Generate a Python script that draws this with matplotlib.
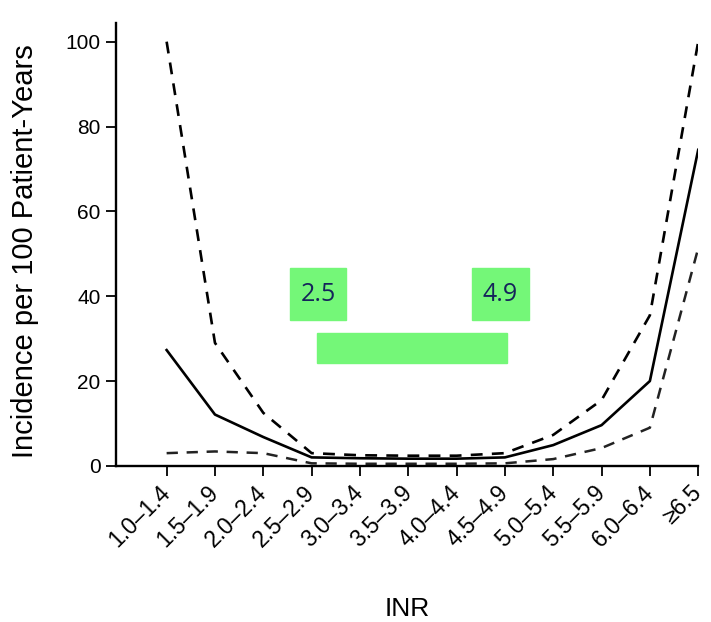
import matplotlib.pyplot as plt
from matplotlib.patches import Rectangle

plt.rcParams['font.family'] = ['Liberation Sans', 'DejaVu Sans']

inr = ['1.0–1.4', '1.5–1.9', '2.0–2.4', '2.5–2.9', '3.0–3.4', '3.5–3.9',
       '4.0–4.4', '4.5–4.9', '5.0–5.4', '5.5–5.9', '6.0–6.4', '≥6.5']
incidence = [27.3, 12.1, 6.8, 2.0, 1.8, 1.7, 1.7, 2.0, 4.9, 9.6, 20.0, 74.5]
upper_ci = [100, 29, 12.5, 3.0, 2.5, 2.4, 2.4, 3.0, 7.3, 15.5, 35.5, 100]
lower_ci = [3.0, 3.4, 3.0, 0.6, 0.5, 0.5, 0.5, 0.6, 1.6, 4.2, 9.0, 51.3]

fig = plt.figure(figsize=(7.11, 6.22), dpi=100)
ax = fig.add_axes([0.163, 0.251, 0.819, 0.712])

x = range(len(inr))
ax.plot(x, incidence, color='black', lw=1.9)
ax.plot(x, upper_ci, color='black', lw=1.9, dashes=(4.5, 3.5))
ax.plot(x, lower_ci, color='#222222', lw=1.8, dashes=(4.5, 3.5))

# target range markers
green = '#74f778'
for x0, x1, lbl in [(2.56, 3.72, '2.5'), (6.31, 7.50, '4.9')]:
    ax.add_patch(Rectangle((x0, 34.4), x1 - x0, 12.3, color=green, zorder=3))
    ax.text((x0 + x1) / 2, 40.3, lbl, ha='center', va='center', fontsize=18,
            color='#15245a', family=['Open Sans', 'DejaVu Sans'], zorder=4)
ax.add_patch(Rectangle((3.12, 24.2), 7.04 - 3.12, 7.1, color=green, zorder=3))

ax.set_xlim(-1.05, 11.0)
ax.set_ylim(0, 104.4)
ax.set_yticks([0, 20, 40, 60, 80, 100])
ax.set_xticks(list(x))
ax.set_xticklabels(inr, rotation=45, ha='right', va='center',
                   rotation_mode='anchor')
ax.tick_params(axis='both', direction='out', length=7, width=1.3)
ax.tick_params(axis='y', labelsize=15, pad=4)
ax.tick_params(axis='x', labelsize=16.5, pad=10)
for s in ['top', 'right']:
    ax.spines[s].set_visible(False)
for s in ['left', 'bottom']:
    ax.spines[s].set_linewidth(1.7)

fig.text(0.035, 0.596, 'Incidence per 100 Patient-Years', rotation=90,
         ha='center', va='center', fontsize=21)
fig.text(0.573, 0.021, 'INR', ha='center', va='center', fontsize=19)

fig.savefig('out.png', dpi=100)
